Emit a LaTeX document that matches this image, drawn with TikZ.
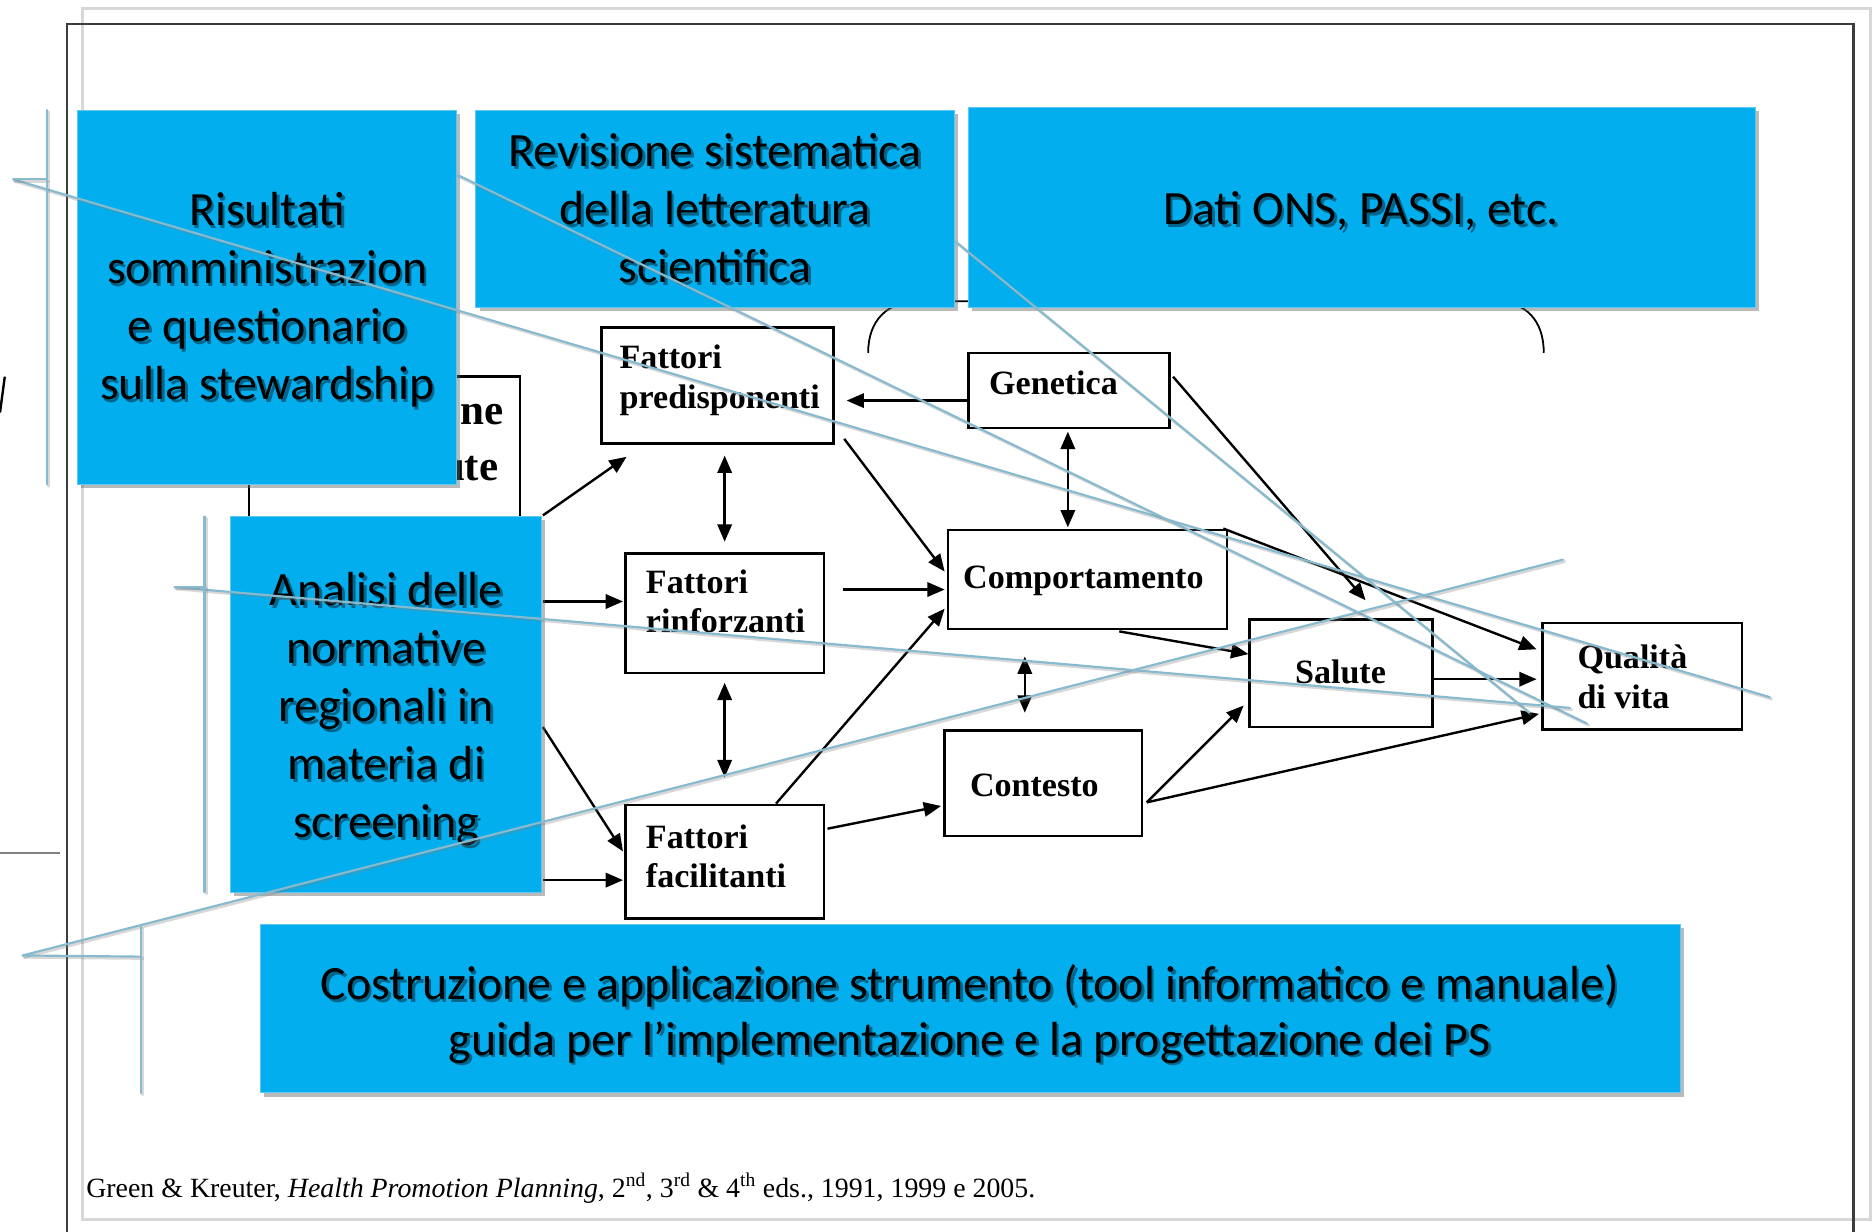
\documentclass[tikz,border=0pt]{standalone}
\usepackage{fontspec}
\setmainfont{Liberation Serif}
\newfontfamily\calib{Carlito}
\usetikzlibrary{arrows.meta,fit,calc,shadows}
\definecolor{skyb}{RGB}{3,174,238}
\definecolor{skyedge}{RGB}{95,200,242}
\definecolor{ghost}{RGB}{135,186,206}
\definecolor{framegray}{RGB}{60,60,60}
\definecolor{lightframe}{RGB}{215,215,215}
\newcommand\skytext[4][48.5]{%
  \node[btext, font=\calib\fontsize{40}{#1}\selectfont, text=black, opacity=0.42] (#2s) at ($(#3)+(2.2,2.2)$) {#4};
  \node[btext, font=\calib\fontsize{40}{#1}\selectfont] (#2) at (#3) {#4};
}
\begin{document}
\begin{tikzpicture}[x=1pt,y=-1pt,
  dbox/.style={draw=black, line width=2pt, fill=white, inner sep=0pt},
  sbox/.style={fill=skyb, draw=skyedge, line width=0.8pt, inner sep=0pt,
    drop shadow={shadow xshift=3pt, shadow yshift=-3pt, opacity=0.45, fill=black!60}},
  dtext/.style={font=\bfseries\fontsize{28.5}{33}\selectfont, inner sep=0pt},
  btext/.style={align=center, inner sep=0pt},
  arr/.style={draw=black, line width=2pt, -{Triangle[length=14.5pt,width=12pt]}},
  darr/.style={draw=black, line width=2pt, {Triangle[length=14.5pt,width=12pt]}-{Triangle[length=14.5pt,width=12pt]}},
  ghostline/.style={draw=ghost, line width=1.8pt, line cap=round},
  ghostshadow/.style={draw=black!50, line width=2.4pt, opacity=0.3, line cap=round},
]
\useasboundingbox (0,0) rectangle (1568,1030);
\fill[white] (0,0) rectangle (1568,1030);

% slide frames
\draw[lightframe, line width=2.5pt] (69,7) rectangle (1564,1020);
\draw[framegray, line width=2pt] (56,1030) -- (56,20) -- (1550,20) -- (1550,1030);
\draw[black!50, line width=1.5pt] (0,713) -- (50,713);
\draw[black, line width=2pt] (4,315) -- (0,345);

% PRECEDE diagram
\node[dbox, fit={(208,315) (435,445)}] (pro) {};
\node[dtext, font=\bfseries\fontsize{36}{43}\selectfont, anchor=base east] (prot1) at (421,355) {ne};
\node[dtext, font=\bfseries\fontsize{36}{43}\selectfont, anchor=base east] (prot2) at (417,402) {ute};

\node[dbox, fit={(503,274) (697,371)}] (pre) {};
\node[dbox, fit={(810,295) (978,358)}] (gen) {};
\node[dbox, fit={(523,463) (689,563)}] (rin) {};
\node[dbox, fit={(793,443) (1026,526)}] (com) {};
\node[dbox, fit={(1045,518) (1198,608)}] (sal) {};
\node[dbox, fit={(1290,521) (1457,610)}] (qua) {};
\node[dbox, fit={(790,611) (955,699)}] (con) {};
\node[dbox, fit={(523,673) (689,768)}] (fac) {};

\node[dtext, align=left, anchor=west] (pret) at (518,318) {Fattori\\predisponenti};
\node[dtext, anchor=base] (gent) at (881,330) {Genetica};
\node[dtext, align=left, anchor=west] (rint) at (540,503) {Fattori\\rinforzanti};
\node[dtext, anchor=base] (comt) at (906,492) {Comportamento};
\node[dtext, anchor=base] (salt) at (1121,572) {Salute};
\node[dtext, align=left, anchor=west] (quat) at (1319,566) {Qualità\\di vita};
\node[dtext, anchor=base] (cont) at (865,666) {Contesto};
\node[dtext, align=left, anchor=west] (fact) at (540,716) {Fattori\\facilitanti};

% brace
\draw[black, line width=1.5pt] (726,295) .. controls (726,268) and (742,252) .. (768,252)
  -- (1250,252) .. controls (1276,252) and (1291,268) .. (1291,295);

% arrows
\draw[arr] ($(pre.south east)+(8,-5)$) -- ($(com.north west)+(-2,36)$);
\draw[arr] ($(rin.north east)+(15,31)$) -- ($(com.north west)+(-2,51)$);
\draw[arr] ($(fac.north west)+(127,0)$) -- ($(com.north west)+(-2,67)$);
\draw[arr] ($(fac.north east)+(2,21)$) -- ($(con.north west)+(-2,64)$);
\draw[arr] ($(gen.north west)+(0,41)$) -- ($(pre.north east)+(10,62)$);
\draw[darr] ($(gen.south west)+(84,2)$) -- ($(com.north west)+(101,-1)$);
\draw[darr] ($(pre.south west)+(104,9)$) -- ($(rin.north west)+(84,-9)$);
\draw[darr] ($(rin.south west)+(84,7)$) -- ($(fac.north west)+(84,-22)$);
\draw[darr] ($(com.south west)+(65,22)$) -- ($(con.north west)+(68,-14)$);
\draw[arr] ($(com.south west)+(144,1)$) -- ($(sal.north west)+(0,30)$);
\draw[arr] ($(com.north east)+(-4,0)$) -- ($(qua.north west)+(-4,23)$);
\draw[arr] ($(gen.north east)+(2,21)$) -- ($(sal.north west)+(98,-15)$);
\draw[arr] ($(sal.north east)+(0,51)$) -- ($(qua.north west)+(-4,48)$);
\draw[arr] ($(con.north east)+(3,61)$) -- ($(sal.north west)+(-4,73)$);
\draw[arr] ($(con.north east)+(3,61)$) -- ($(qua.north west)+(-2,77)$);
\draw[arr] ($(pro.north east)+(18,117)$) -- ($(pre.south west)+(22,10)$);
\draw[arr] ($(pro.north east)+(18,189)$) -- ($(rin.north west)+(-1,41)$);
\draw[arr] ($(pro.north east)+(18,294)$) -- ($(fac.north west)+(-1,40)$);
\draw[arr] ($(pro.north east)+(18,422)$) -- ($(fac.north west)+(-1,64)$);

% blue boxes
\node[sbox, fit={(65,92) (382,405)}] (ris) {};
\node[sbox, fit={(398,92) (798,257)}] (rev) {};
\node[sbox, fit={(810,90) (1468,257)}] (dat) {};
\node[sbox, fit={(193,432) (453,746)}] (ana) {};
\node[sbox, fit={(218,773) (1405,914)}] (cos) {};

\skytext{rist}{223.5,251}{Risultati\\somministrazion\\e questionario\\sulla stewardship}
\skytext{revt}{598,174}{Revisione sistematica\\della letteratura\\scientifica}
\node[btext, anchor=base, font=\calib\fontsize{40}{48}\selectfont, text=black, opacity=0.42] (datts) at (1140.2,190.2) {Dati ONS, PASSI, etc.};
\node[btext, anchor=base, font=\calib\fontsize{40}{48}\selectfont] (datt) at (1138,188) {Dati ONS, PASSI, etc.};
\skytext{anat}{323,593}{Analisi delle\\normative\\regionali in\\materia di\\screening}
\skytext[46.5]{cost}{811,848}{Costruzione e applicazione strumento (tool informatico e manuale)\\guida per l’implementazione e la progettazione dei PS}

% stray light-blue callout lines
\coordinate (g1a) at (11,150);  \coordinate (g1b) at (1480,583);
\coordinate (g1c) at (39,150);  \coordinate (g1t) at (39,92); \coordinate (g1u) at (39,405);
\coordinate (g2a) at (382,146); \coordinate (g2b) at (1327,605);
\coordinate (g5a) at (799,202); \coordinate (g5b) at (1279,596);
\coordinate (g3a) at (19,799);  \coordinate (g3b) at (1307,468);
\coordinate (g3c) at (118,800); \coordinate (g3t) at (118,775); \coordinate (g3u) at (118,914);
\coordinate (g4a) at (146,491); \coordinate (g4b) at (1313,592);
\coordinate (g4c) at (171,491); \coordinate (g4t) at (171,432); \coordinate (g4u) at (171,746);
\foreach \p/\q in {g1a/g1b,g1a/g1c,g1t/g1u,g2a/g2b,g5a/g5b,g3a/g3b,g3a/g3c,g3t/g3u,g4a/g4b,g4a/g4c,g4t/g4u}{
  \draw[ghostshadow] ($(\p)+(1.5,1.5)$) -- ($(\q)+(1.5,1.5)$);
  \draw[ghostline] (\p) -- (\q);
}

% footer
\node[anchor=base west, inner sep=0pt, font=\fontsize{23.3}{28}\selectfont] (foot) at (72,1001)
  {Green \& Kreuter, \textit{Health Promotion Planning}, 2\textsuperscript{nd}, 3\textsuperscript{rd} \& 4\textsuperscript{th} eds., 1991, 1999 e 2005.};
\end{tikzpicture}
\end{document}
